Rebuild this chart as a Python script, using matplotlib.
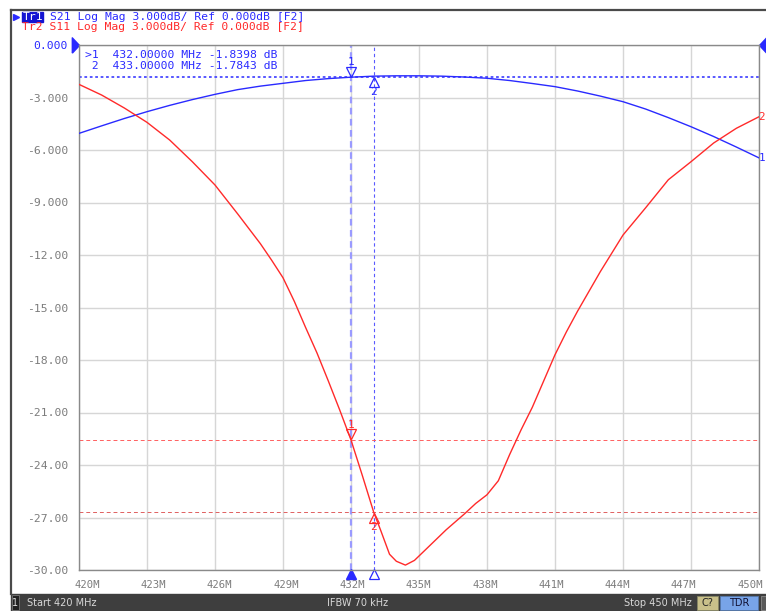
import numpy as np
import matplotlib.pyplot as plt
from matplotlib.patches import Rectangle
from matplotlib.transforms import offset_copy, blended_transform_factory, ScaledTranslation

# S21 trace (Tr1)
s21_freq = [420, 421, 422, 423, 424, 425, 426, 427, 428, 429, 430, 431, 432, 433,
            434, 435, 436, 437, 438, 439, 440, 441, 442, 443, 444, 445, 446, 447,
            448, 449, 450]
s21 = [-5.05, -4.62, -4.2, -3.81, -3.45, -3.12, -2.82, -2.55, -2.35, -2.19, -2.03,
       -1.92, -1.84, -1.78, -1.76, -1.76, -1.78, -1.83, -1.9, -2.03, -2.2, -2.38,
       -2.63, -2.92, -3.24, -3.66, -4.15, -4.67, -5.23, -5.83, -6.45]

# S11 trace (Tr2)
s11_freq = [420, 421, 422, 423, 424, 425, 426, 427, 428, 428.5, 429, 429.5, 430, 430.5,
            431, 431.5, 432, 432.5, 433, 433.3, 433.7, 434.0, 434.4, 434.8, 435.2,
            435.6, 436.2, 437, 437.5, 438, 438.5, 439, 439.5, 440, 440.5, 441, 441.5,
            442, 443, 444, 445, 446, 447, 448, 449, 450]
s11 = [-2.25, -2.86, -3.6, -4.42, -5.43, -6.67, -8.0, -9.65, -11.35, -12.3, -13.3,
       -14.65, -16.15, -17.6, -19.2, -20.85, -22.57, -24.6, -26.69, -27.7, -29.1,
       -29.5, -29.72, -29.45, -28.95, -28.45, -27.7, -26.8, -26.2, -25.7, -24.9,
       -23.4, -22.0, -20.7, -19.2, -17.7, -16.4, -15.2, -12.95, -10.86, -9.3, -7.7,
       -6.67, -5.6, -4.76, -4.1]

# markers
mk_freq = [432.0, 433.0]
mk_s21 = [-1.8398, -1.7843]
mk_s11 = [-22.57, -26.69]
mk_names = ['1', '2']

xticks = [420, 423, 426, 429, 432, 435, 438, 441, 444, 447, 450]
xtick_labels = ['420M', '423M', '426M', '429M', '432M', '435M', '438M', '441M',
                '444M', '447M', '450M']
yticks = [0, -3, -6, -9, -12, -15, -18, -21, -24, -27, -30]
ytick_labels = ['0.000', '-3.000', '-6.000', '-9.000', '-12.00', '-15.00', '-18.00',
                '-21.00', '-24.00', '-27.00', '-30.00']

readout = ['>1  432.00000 MHz -1.8398 dB',
           ' 2  433.00000 MHz -1.7843 dB']
header1 = 'S21 Log Mag 3.000dB/ Ref 0.000dB [F2]'
header2 = 'Tr2 S11 Log Mag 3.000dB/ Ref 0.000dB [F2]'

BLUE = '#2a2aff'
RED = '#ff2a2a'
GRID = '#d6d6d6'
TXT = '#7c7c7c'

plt.rcParams['font.family'] = 'DejaVu Sans Mono'

fig = plt.figure(figsize=(7.66, 6.11), dpi=100)

# background canvas in pixel units for the instrument frame
bg = fig.add_axes([0, 0, 1, 1])
bg.set_xlim(0, 766)
bg.set_ylim(611, 0)
bg.axis('off')
bg.plot([11, 766], [9.5, 9.5], color='#4a4a4a', lw=1.6)
bg.plot([11, 11], [9.5, 594], color='#4a4a4a', lw=1.6)

# header
bg.plot([16], [16.5], marker='>', color=BLUE, ms=4.5)
bg.add_patch(Rectangle((21.5, 12), 21.5, 9.5, color='#1414d2'))
bg.text(22.5, 17, 'Tr1', color='white', fontsize=8.2, va='center', ha='left')
bg.text(50, 17, header1, color=BLUE, fontsize=8.2, va='center', ha='left')
bg.text(22.5, 27.5, header2, color=RED, fontsize=8.2, va='center', ha='left')

# status bar
bg.add_patch(Rectangle((11, 594), 755, 17, color='#3e3e3e'))
bg.add_patch(Rectangle((11.5, 595), 7, 15, facecolor='#222222', edgecolor='#777777', lw=0.6))
bg.text(15, 602.5, '1', color='#dddddd', fontsize=7, ha='center', va='center',
        family='DejaVu Sans')
bg.text(27, 602.5, 'Start 420 MHz', color='#d8d8d8', fontsize=7, va='center',
        family='DejaVu Sans')
bg.text(358, 602.5, 'IFBW 70 kHz', color='#d8d8d8', fontsize=7, va='center',
        ha='center', family='DejaVu Sans')
bg.text(692, 602.5, 'Stop 450 MHz', color='#d8d8d8', fontsize=7, va='center',
        ha='right', family='DejaVu Sans')
bg.add_patch(Rectangle((697, 596), 21, 14, facecolor='#c9c08a', edgecolor='#888866', lw=0.6))
bg.text(707.5, 603, 'C?', color='#222222', fontsize=7, va='center', ha='center',
        family='DejaVu Sans')
bg.add_patch(Rectangle((720, 596), 38, 14, facecolor='#78a4e8', edgecolor='#5577aa', lw=0.6))
bg.text(739, 603, 'TDR', color='#111133', fontsize=7, va='center', ha='center',
        family='DejaVu Sans')
bg.add_patch(Rectangle((761, 596), 8, 14, facecolor='#5a5a5a', edgecolor='#888888', lw=0.6))

# main plot
ax = fig.add_axes([79 / 766, 41 / 611, 680 / 766, 525 / 611])
ax.set_xlim(420, 450)
ax.set_ylim(-30, 0)
ax.set_xticks(xticks)
ax.set_xticklabels(xtick_labels)
ax.set_yticks(yticks)
ax.set_yticklabels(ytick_labels)
ax.tick_params(length=0, labelsize=8.2, labelcolor=TXT)
ax.tick_params(axis='y', pad=8)
ax.tick_params(axis='x', pad=7, labelsize=7.6)
ax.get_yticklabels()[0].set_color(BLUE)
# the instrument spaces its frequency labels a little tighter than the grid
for i, lab in enumerate(ax.get_xticklabels()):
    dx = (8 - 1.7 * i) / 100
    lab.set_transform(lab.get_transform() + ScaledTranslation(dx, 0, fig.dpi_scale_trans))
ax.grid(True, color=GRID, lw=1)
for s in ax.spines.values():
    s.set_color('#8a8a8a')
    s.set_linewidth(1)

# marker lines
ax.axvline(mk_freq[0], color='#9a9aff', lw=1.6, ls=(0, (3, 2)), zorder=2)
ax.axvline(mk_freq[1], color='#5a5aff', lw=0.8, ls=(0, (3, 2.5)), zorder=2)
ax.axhline(mk_s21[0], color='#4a4aff', lw=1.3, ls=(0, (1.5, 1.5)), zorder=2)
ax.axhline(mk_s11[0], color='#ff6060', lw=0.7, ls=(0, (4, 3)), zorder=2)
ax.axhline(mk_s11[1], color='#e06060', lw=0.7, ls=(0, (4, 3)), zorder=2)

# traces
ax.plot(s21_freq, s21, color=BLUE, lw=1, zorder=3)
ax.plot(s11_freq, s11, color=RED, lw=1, zorder=3)


def flag(x, y, name, color, above):
    dy = 4 if above else -4
    tr = offset_copy(ax.transData, fig=fig, x=0, y=dy, units='points')
    ax.plot([x], [y], marker='v' if above else '^', ms=7, mfc='none', mec=color,
            mew=0.9, transform=tr, clip_on=False, zorder=5)
    ax.annotate(name, (x, y), xytext=(0, 11 if above else -11),
                textcoords='offset points', ha='center', va='center',
                color=color, fontsize=8, zorder=5)


for i in range(2):
    flag(mk_freq[i], mk_s21[i], mk_names[i], BLUE, i == 0)
    flag(mk_freq[i], mk_s11[i], mk_names[i], RED, i == 0)

# marker positions on the frequency axis
bt = offset_copy(blended_transform_factory(ax.transData, ax.transAxes),
                 fig=fig, x=0, y=-3.2, units='points')
ax.plot([mk_freq[0]], [0], marker='^', ms=6.5, color=BLUE, transform=bt, clip_on=False)
ax.plot([mk_freq[1]], [0], marker='^', ms=6.5, mfc='white', mec=BLUE, mew=0.9,
        transform=bt, clip_on=False)

# reference level arrows
tri_r = [(-0.94, -1), (-0.94, 1), (0, 0), (-0.94, -1)]
tri_l = [(0.94, -1), (0.94, 1), (0, 0), (0.94, -1)]
lt = blended_transform_factory(ax.transAxes, ax.transData)
ax.plot([0], [0], marker=tri_r, ms=11, color=BLUE, transform=lt, clip_on=False)
ax.plot([1], [0], marker=tri_l, ms=11, color=BLUE, transform=lt, clip_on=False)

# trace end labels
ax.annotate('1', (s21_freq[-1], s21[-1]), xytext=(-0.5, 0), textcoords='offset points',
            ha='left', va='center', color=BLUE, fontsize=7.8, annotation_clip=False)
ax.annotate('2', (s11_freq[-1], s11[-1]), xytext=(-0.5, 0), textcoords='offset points',
            ha='left', va='center', color=RED, fontsize=7.8, annotation_clip=False)

# marker readout
for i, line in enumerate(readout):
    ax.text(0.009, 0.981 - i * 0.021, line, transform=ax.transAxes, color=BLUE,
            fontsize=8.2, va='center', ha='left')

fig.savefig('out.png', dpi=100)
